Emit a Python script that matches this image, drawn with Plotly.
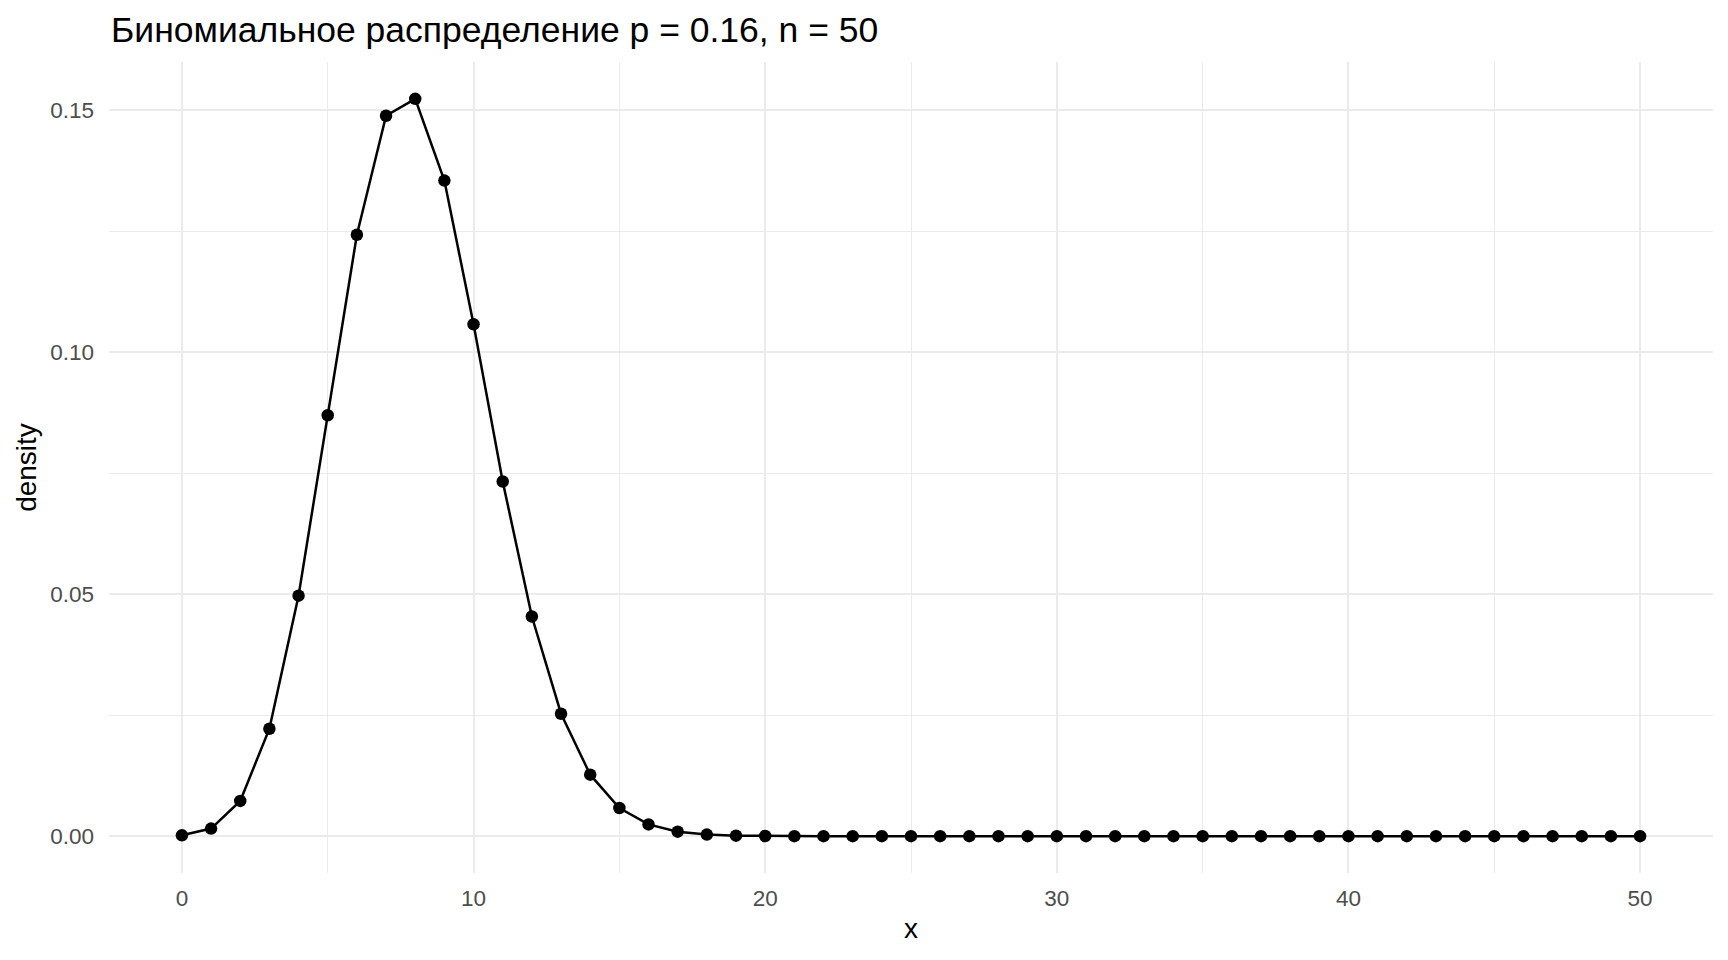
import plotly.graph_objects as go

# Data (binomial distribution, p = 0.16, n = 50)
x_values = list(range(0, 51))
density = [
    0.000164, 0.00156, 0.00728, 0.0222, 0.0497, 0.0870, 0.1243, 0.1489, 0.1524, 0.1355,
    0.1058, 0.0733, 0.0454, 0.0253, 0.0127, 0.00581, 0.00242, 0.00092, 0.00032, 0.00010,
    0.00003, 0.0, 0.0, 0.0, 0.0, 0.0, 0.0, 0.0, 0.0, 0.0,
    0.0, 0.0, 0.0, 0.0, 0.0, 0.0, 0.0, 0.0, 0.0, 0.0,
    0.0, 0.0, 0.0, 0.0, 0.0, 0.0, 0.0, 0.0, 0.0, 0.0,
    0.0,
]
x_ticks = [0, 10, 20, 30, 40, 50]
y_ticks = [0.00, 0.05, 0.10, 0.15]
y_tick_labels = ["0.00", "0.05", "0.10", "0.15"]
title_text = "Биномиальное распределение p = 0.16, n = 50"

FONT = "Liberation Sans, Arial, Helvetica, sans-serif"

fig = go.Figure()
fig.add_trace(go.Scatter(
    x=x_values, y=density, mode="lines+markers",
    line=dict(color="black", width=2.5),
    marker=dict(color="black", size=12.5),
    showlegend=False,
))

fig.update_layout(
    width=1720, height=952,
    paper_bgcolor="white", plot_bgcolor="white",
    margin=dict(l=101, r=15, t=54, b=87, autoexpand=False),
    font=dict(family=FONT, color="black"),
    annotations=[dict(
        text=title_text, xref="paper", yref="paper", x=0, y=1,
        xanchor="left", yanchor="bottom", yshift=10, showarrow=False,
        font=dict(size=35.5, color="black", family=FONT),
    )],
)

fig.update_xaxes(
    range=[-2.5, 52.5], tickmode="array", tickvals=x_ticks,
    ticktext=[str(v) for v in x_ticks],
    showgrid=True, gridcolor="#EBEBEB", gridwidth=2,
    minor=dict(dtick=5, showgrid=True, gridcolor="#EBEBEB", gridwidth=1),
    zeroline=False, showline=False, ticks="",
    tickfont=dict(size=22.5, color="#4D4D4D"),
    ticklabelstandoff=9,
    title=dict(text="x", font=dict(size=28, color="black"), standoff=8),
)
fig.update_yaxes(
    range=[-0.00762, 0.16001], tickmode="array", tickvals=y_ticks,
    ticktext=y_tick_labels,
    showgrid=True, gridcolor="#EBEBEB", gridwidth=2,
    minor=dict(tickvals=[0.025, 0.075, 0.125], showgrid=True, gridcolor="#EBEBEB", gridwidth=1),
    zeroline=False, showline=False, ticks="",
    tickfont=dict(size=22.5, color="#4D4D4D"),
    ticklabelstandoff=14,
    title=dict(text="density", font=dict(size=28, color="black"), standoff=5),
)

fig.write_html("out.html")
